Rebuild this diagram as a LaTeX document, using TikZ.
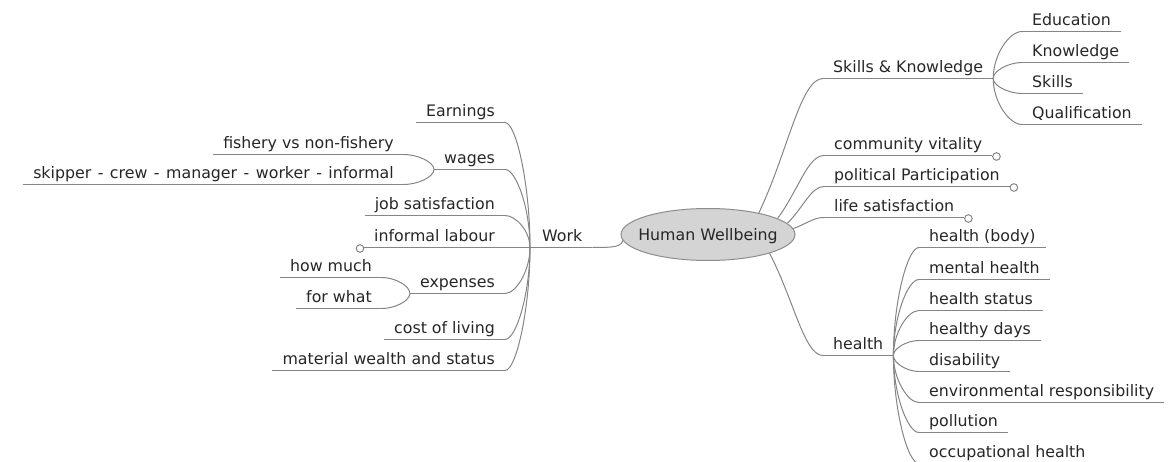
\documentclass[tikz,border=0pt]{standalone}
\usepackage{fontspec}
\setmainfont{DejaVu Sans}
\usetikzlibrary{calc,shapes.geometric}
\definecolor{edgegray}{HTML}{858585}
\definecolor{inkgray}{HTML}{262626}
\definecolor{bubblefill}{HTML}{D4D4D4}
\definecolor{bubbleline}{HTML}{8C8C8C}
\begin{document}
\begin{tikzpicture}[x=1pt,y=1pt,
  every node/.style={font=\fontsize{15.8}{19}\selectfont, text=inkgray},
  topic/.style={inner xsep=10pt, inner ysep=0pt, text height=12pt, text depth=6pt},
  leftT/.style={topic, anchor=south east},
  rightT/.style={topic, anchor=south west},
  link/.style={draw=edgegray, line width=1pt},
  % child end -> parent fork: leaves horizontally, arrives vertically
  brace/.style={to path={.. controls ($(\tikztostart)!0.45!(\tikztotarget|-\tikztostart)$) and ($(\tikztotarget)!0.5!(\tikztotarget|-\tikztostart)$) .. (\tikztotarget)}},
  % central bubble -> first-level topic on the right
  rise/.style={to path={.. controls ($(\tikztostart)!0.45!(\tikztotarget)$) and ($(\tikztotarget)!0.35!(\tikztostart|-\tikztotarget)$) .. (\tikztotarget)}},
  knob/.style={draw=edgegray, fill=white, line width=1pt},
]
\useasboundingbox (0,0) rectangle (1168,-462);

% central topic
\node[ellipse, draw=bubbleline, fill=bubblefill, line width=1pt,
      minimum width=174pt, minimum height=52pt, inner sep=0pt] (hw) at (708,-234.5) {};
\node[anchor=base, inner sep=0pt] (hwlabel) at (708,-241) {Human Wellbeing};

% junction of the Work branch
\coordinate (hub) at (530,-247.5);

% ---- left side: Work ----
\node[rightT] (work) at (532,-247.5) {Work};
\node[leftT] (earn) at (505,-122.5) {Earnings};
\node[leftT] (wage) at (505,-169.5) {wages};
\node[leftT] (fish) at (404,-154.5) {fishery vs non-fishery};
\node[leftT] (crew) at (404,-184.5) {\spaceskip=6.5pt skipper - crew - manager - worker - informal};
\node[leftT] (job)  at (505,-215.5) {job satisfaction};
\node[leftT] (infl) at (505,-247.5) {informal labour};
\node[leftT] (exps) at (505,-293.5) {expenses};
\node[leftT] (howm) at (382,-277.5) {how much};
\node[leftT] (forw) at (382,-308.5) {for what};
\node[leftT] (cost) at (505,-339.5) {cost of living};
\node[leftT] (matw) at (505,-370.5) {material wealth and status};

% ---- right side ----
\node[rightT] (sk)   at (823,-78.5) {Skills \& Knowledge};
\node[rightT] (edu)  at (1022,-31.5) {Education};
\node[rightT] (knw)  at (1022,-62.5) {Knowledge};
\node[rightT] (skl)  at (1022,-93.5) {Skills};
\node[rightT] (qual) at (1022,-124.5) {Qualification};
\node[rightT] (comm) at (824,-155.5) {community vitality};
\node[rightT] (pol)  at (824,-186.5) {political Participation};
\node[rightT] (life) at (824,-217.5) {life satisfaction};
\node[rightT] (hlth) at (823,-355.5) {health};
\node[rightT] (hb)   at (919,-247.5) {health (body)};
\node[rightT] (mh)   at (919,-279.5) {mental health};
\node[rightT] (hs)   at (919,-310.5) {health status};
\node[rightT] (hd)   at (919,-340.5) {healthy days};
\node[rightT] (dis)  at (919,-371.5) {disability};
\node[rightT] (env)  at (919,-402.5) {environmental responsibility};
\node[rightT] (poll) at (919,-432.5) {pollution};
\node[rightT] (occ)  at (919,-463.5) {occupational health};

% underlines of all topics
\foreach \n in {work,earn,wage,fish,crew,job,infl,exps,howm,forw,cost,matw,
                sk,edu,knw,skl,qual,comm,pol,life,hlth,hb,mh,hs,hd,dis,env,poll,occ}
  \draw[link] (\n.south west) -- (\n.south east);

% Work branch
\draw[link] (hub) -- (work.south west);
\draw[link] (work.south east) to[out=0,in=-100,out looseness=1.4,in looseness=0.6] (hw.184);
\foreach \n in {earn,wage,job,exps,cost,matw}
  \draw[link] (\n.south east) to[brace] (hub);
\draw[link] (infl.south east) -- (hub);
\draw[link] (fish.south east) to[brace] (wage.south west);
\draw[link] (crew.south east) to[brace] (wage.south west);
\draw[link] (howm.south east) to[brace] (exps.south west);
\draw[link] (forw.south east) to[brace] (exps.south west);

% right branches
\draw[link] (hw.23)  to[rise] (sk.south west);
\draw[link] (hw.13)  to[rise] (comm.south west);
\draw[link] (hw.8)   to[rise] (pol.south west);
\draw[link] (hw.4)   to[rise] (life.south west);
\draw[link] (hw.-17) to[rise] (hlth.south west);
\foreach \n in {edu,knw,skl,qual}
  \draw[link] (\n.south west) to[brace] (sk.south east);
\foreach \n in {hb,mh,hs,hd,dis,env,poll,occ}
  \draw[link] (\n.south west) to[brace] (hlth.south east);

% collapsed-branch markers
\draw[knob] ($(comm.south east)+(4,-1)$) circle (3.8);
\draw[knob] ($(pol.south east)+(4,-1)$) circle (3.8);
\draw[knob] ($(life.south east)+(4,-1)$) circle (3.8);
\draw[knob] ($(infl.south west)+(-4,-1)$) circle (3.8);
\end{tikzpicture}
\end{document}
